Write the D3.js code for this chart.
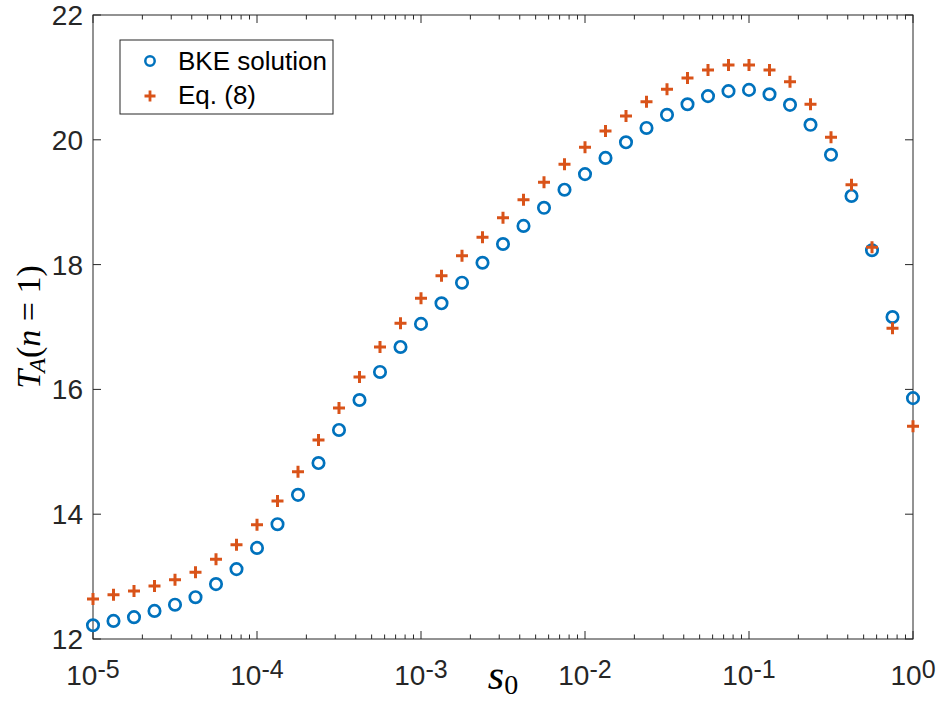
<!DOCTYPE html>
<html>
<head>
<meta charset="utf-8">
<script src="https://cdn.jsdelivr.net/npm/d3@7"></script>
<style>
  body { margin: 0; background: #fff; }
  svg { font-family: "Liberation Sans", Arial, sans-serif; }
</style>
</head>
<body>
<script>
// log10 of s0 at each sample (8 per decade)
const s0exp = [-5, -4.875, -4.75, -4.625, -4.5, -4.375, -4.25, -4.125,
               -4, -3.875, -3.75, -3.625, -3.5, -3.375, -3.25, -3.125,
               -3, -2.875, -2.75, -2.625, -2.5, -2.375, -2.25, -2.125,
               -2, -1.875, -1.75, -1.625, -1.5, -1.375, -1.25, -1.125,
               -1, -0.875, -0.75, -0.625, -0.5, -0.375, -0.25, -0.125, 0];

const bke = [12.22, 12.29, 12.35, 12.45, 12.55, 12.67, 12.88, 13.12,
             13.46, 13.84, 14.31, 14.82, 15.35, 15.83, 16.28, 16.68,
             17.05, 17.38, 17.71, 18.03, 18.33, 18.62, 18.91, 19.20,
             19.45, 19.71, 19.96, 20.19, 20.40, 20.57, 20.70, 20.78,
             20.80, 20.73, 20.56, 20.24, 19.76, 19.10, 18.23, 17.16, 15.86];

const eq8 = [12.64, 12.71, 12.77, 12.85, 12.95, 13.07, 13.28, 13.51,
             13.83, 14.21, 14.68, 15.19, 15.70, 16.20, 16.68, 17.06,
             17.46, 17.82, 18.14, 18.44, 18.75, 19.04, 19.32, 19.61,
             19.88, 20.14, 20.38, 20.61, 20.81, 20.99, 21.12, 21.20,
             21.20, 21.12, 20.93, 20.57, 20.04, 19.28, 18.28, 16.98, 15.41];

const xDecades = [-5, -4, -3, -2, -1, 0];
const yTicks = [12, 14, 16, 18, 20, 22];
const seriesNames = ["BKE solution", "Eq. (8)"];

const width = 939, height = 702;
const margin = {top: 15, right: 26, bottom: 63, left: 93};
const blue = "#0072BD", orange = "#D95319", axisColor = "#262626";
const serif = '"Liberation Serif", "Times New Roman", serif';

const x = d3.scaleLog([1e-5, 1], [margin.left, width - margin.right]);
const y = d3.scaleLinear([12, 22], [height - margin.bottom, margin.top]);

const svg = d3.select("body").append("svg")
    .attr("width", width)
    .attr("height", height);

// minor ticks for log axis
const minor = [];
xDecades.slice(0, -1).forEach(e => {
  for (let m = 2; m <= 9; m++) minor.push(m * Math.pow(10, e));
});

const ticks = svg.append("g")
    .attr("stroke", axisColor)
    .attr("stroke-width", 1);

[height - margin.bottom, margin.top].forEach((yy, i) => {
  const dir = i === 0 ? -1 : 1;
  ticks.selectAll(null)
    .data(xDecades)
    .join("line")
      .attr("x1", d => x(Math.pow(10, d))).attr("x2", d => x(Math.pow(10, d)))
      .attr("y1", yy).attr("y2", yy + dir * 8);
  ticks.selectAll(null)
    .data(minor)
    .join("line")
      .attr("x1", d => x(d)).attr("x2", d => x(d))
      .attr("y1", yy).attr("y2", yy + dir * 4.5);
});

[margin.left, width - margin.right].forEach((xx, i) => {
  const dir = i === 0 ? 1 : -1;
  ticks.selectAll(null)
    .data(yTicks)
    .join("line")
      .attr("y1", d => y(d)).attr("y2", d => y(d))
      .attr("x1", xx).attr("x2", xx + dir * 8);
});

// box
svg.append("rect")
    .attr("x", margin.left)
    .attr("y", margin.top)
    .attr("width", width - margin.right - margin.left)
    .attr("height", height - margin.bottom - margin.top)
    .attr("fill", "none")
    .attr("stroke", axisColor)
    .attr("stroke-width", 1);

// y tick labels
svg.append("g")
  .selectAll("text")
  .data(yTicks)
  .join("text")
    .attr("x", margin.left - 10)
    .attr("y", d => y(d) + 10)
    .attr("text-anchor", "end")
    .attr("font-size", 28)
    .attr("fill", axisColor)
    .text(d => d);

// x tick labels 10^e
const xl = svg.append("g")
  .selectAll("text")
  .data(xDecades)
  .join("text")
    .attr("x", d => x(Math.pow(10, d)))
    .attr("y", 685)
    .attr("text-anchor", "middle")
    .attr("font-size", 28)
    .attr("fill", axisColor);
xl.append("tspan").text("10");
xl.append("tspan")
    .attr("font-size", 25)
    .attr("dy", -7)
    .text(d => d === 0 ? "0" : "-" + Math.abs(d));

// markers
const pts = s0exp.map((e, i) => ({s: Math.pow(10, e), a: bke[i], b: eq8[i]}));

svg.append("g")
    .attr("fill", "none")
    .attr("stroke", blue)
    .attr("stroke-width", 2.7)
  .selectAll("circle")
  .data(pts)
  .join("circle")
    .attr("cx", d => x(d.s))
    .attr("cy", d => y(d.a))
    .attr("r", 5.7);

const plus = (cx, cy, r) => `M${cx - r},${cy}H${cx + r}M${cx},${cy - r}V${cy + r}`;

svg.append("g")
    .attr("fill", "none")
    .attr("stroke", orange)
    .attr("stroke-width", 3)
  .selectAll("path")
  .data(pts)
  .join("path")
    .attr("d", d => plus(x(d.s), y(d.b), 6));

// legend
const lg = svg.append("g");
lg.append("rect")
    .attr("x", 120).attr("y", 40)
    .attr("width", 213).attr("height", 74)
    .attr("fill", "#fff")
    .attr("stroke", axisColor)
    .attr("stroke-width", 1);
lg.append("circle")
    .attr("cx", 150).attr("cy", 61).attr("r", 4.7)
    .attr("fill", "none").attr("stroke", blue).attr("stroke-width", 2.5);
lg.append("path")
    .attr("d", plus(150, 96, 5.5))
    .attr("fill", "none").attr("stroke", orange).attr("stroke-width", 2.8);
lg.selectAll("text")
  .data(seriesNames)
  .join("text")
    .attr("x", 178)
    .attr("y", (d, i) => 70 + i * 34)
    .attr("font-size", 26)
    .attr("fill", "#000")
    .text(d => d);

// axis titles (LaTeX style)
const xt = svg.append("text")
    .attr("x", (margin.left + width - margin.right) / 2)
    .attr("y", 689)
    .attr("text-anchor", "middle")
    .style("font-family", serif)
    .attr("fill", "#000")
    .attr("font-size", 42);
xt.append("tspan").attr("font-style", "italic").text("s");
xt.append("tspan").attr("font-size", 28).attr("dy", 5).text("0");

const yt = svg.append("text")
    .attr("transform", `translate(40,${(margin.top + height - margin.bottom) / 2}) rotate(-90)`)
    .attr("text-anchor", "middle")
    .style("font-family", serif)
    .attr("fill", "#000")
    .attr("font-size", 34);
yt.append("tspan").attr("font-style", "italic").text("T");
yt.append("tspan").attr("font-style", "italic").attr("font-size", 24).attr("dy", 5).attr("dx", -3).text("A");
yt.append("tspan").attr("dy", -5).text("(");
yt.append("tspan").attr("font-style", "italic").text("n");
yt.append("tspan").text(" = 1)");
</script>
</body>
</html>
